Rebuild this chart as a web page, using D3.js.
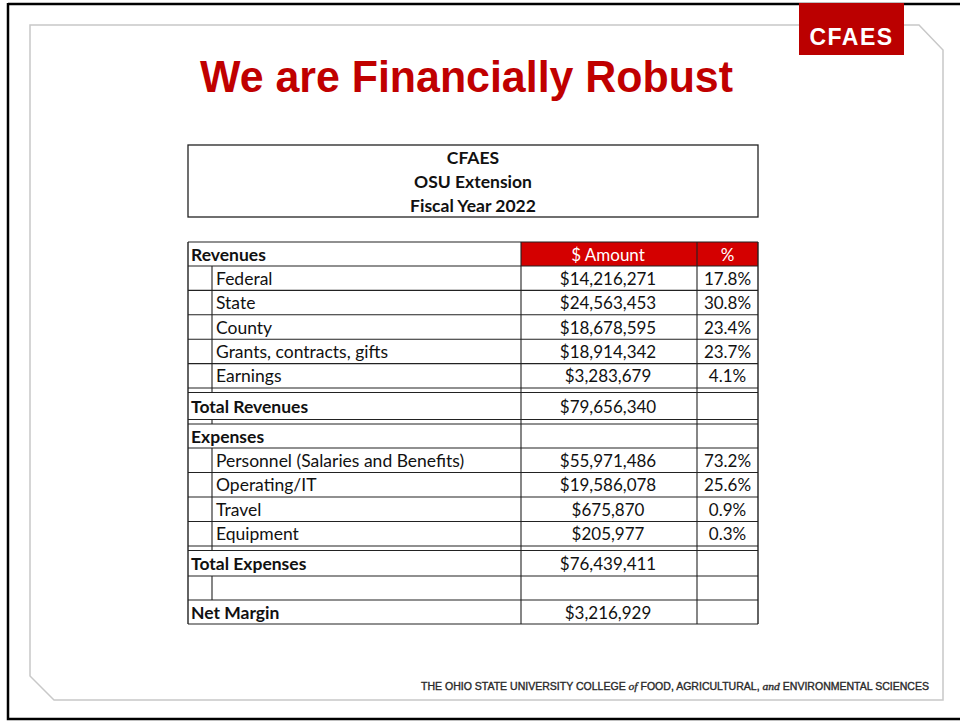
<!DOCTYPE html>
<html><head><meta charset="utf-8">
<script src="https://cdn.jsdelivr.net/npm/d3@7"></script>
<style>
html,body{margin:0;padding:0;background:#fff;}
svg{display:block;}
</style></head>
<body>
<svg id="chart" width="960" height="721"></svg>
<script>
// ---- data ----
const titleText = "We are Financially Robust";
const headerLines = ["CFAES", "OSU Extension", "Fiscal Year 2022"];
const columnHeaders = ["$ Amount", "%"];
const revenueCategories = ["Federal", "State", "County", "Grants, contracts, gifts", "Earnings"];
const revenueAmounts = [14216271, 24563453, 18678595, 18914342, 3283679];
const revenuePct = [17.8, 30.8, 23.4, 23.7, 4.1];
const totalRevenues = 79656340;
const expenseCategories = ["Personnel (Salaries and Benefits)", "Operating/IT", "Travel", "Equipment"];
const expenseAmounts = [55971486, 19586078, 675870, 205977];
const expensePct = [73.2, 25.6, 0.9, 0.3];
const totalExpenses = 76439411;
const netMargin = 3216929;

// ---- layout ----
const svg = d3.select("#chart");
const fmt = d3.format("$,");
const pfmt = v => v.toFixed(1) + "%";
const F = "Lato, 'Open Sans', sans-serif";
const FS = 17.5;

// page frame
svg.append("path").attr("d","M8,4 H960 M8,3 V719 H960")
  .attr("fill","none").attr("stroke","#000").attr("stroke-width",2.5);
svg.append("path").attr("d","M30,25 H919 L943,50 V700 H54 L30,676 Z")
  .attr("fill","none").attr("stroke","#c8c8c8").attr("stroke-width",1.5);

// CFAES badge
svg.append("rect").attr("x",799).attr("y",3).attr("width",105).attr("height",52).attr("fill","#bb0000");
svg.append("text").attr("x",851.5).attr("y",45).attr("text-anchor","middle")
  .attr("font-family","'Liberation Sans', Arial, sans-serif").attr("font-weight","bold")
  .attr("font-size",23).attr("letter-spacing",1.5).attr("fill","#fff").text("CFAES");

// title
svg.append("text").attr("x",200).attr("y",92)
  .attr("font-family","'Liberation Sans Narrow', 'Liberation Sans', Arial, sans-serif")
  .attr("font-weight","bold").attr("font-size",44).attr("fill","#c00000")
  .attr("textLength",533).attr("lengthAdjust","spacingAndGlyphs").text(titleText);

// header box
const x0 = 188, x1 = 758;
svg.append("rect").attr("x",x0).attr("y",145).attr("width",x1-x0).attr("height",72)
  .attr("fill","none").attr("stroke","#222").attr("stroke-width",1.3);
svg.selectAll("text.hdr").data(headerLines).join("text").attr("class","hdr")
  .attr("x",(x0+x1)/2).attr("y",(d,i)=>163.5+i*24).attr("text-anchor","middle")
  .attr("font-family",F).attr("font-weight","bold").attr("font-size",FS).attr("fill","#111")
  .text(d=>d);

// rows
const rows = [];
rows.push({type:"section", label:"Revenues", amt:columnHeaders[0], pct:columnHeaders[1], head:true, h:24});
revenueCategories.forEach((c,i)=>rows.push({type:"item", label:c, amt:fmt(revenueAmounts[i]), pct:pfmt(revenuePct[i]), h:24.4}));
rows.push({type:"spacer", h:4.5});
rows.push({type:"total", label:"Total Revenues", amt:fmt(totalRevenues), pct:"", h:27});
rows.push({type:"spacer", h:4.5});
rows.push({type:"section", label:"Expenses", amt:"", pct:"", h:24});
expenseCategories.forEach((c,i)=>rows.push({type:"item", label:c, amt:fmt(expenseAmounts[i]), pct:pfmt(expensePct[i]), h:24.5}));
rows.push({type:"spacer", h:4.5});
rows.push({type:"total", label:"Total Expenses", amt:fmt(totalExpenses), pct:"", h:25.5});
rows.push({type:"blank", label:"", amt:"", pct:"", h:24});
rows.push({type:"total", label:"Net Margin", amt:fmt(netMargin), pct:"", h:24});

let yc = 242;
rows.forEach(r=>{ r.y = yc; yc += r.h; });
const yEnd = yc;

const cols = {indent:212, amt:521, pct:697};
const g = svg.append("g");

// red header cells
const hr = rows[0];
g.append("rect").attr("x",cols.amt).attr("y",hr.y).attr("width",cols.pct-cols.amt).attr("height",hr.h).attr("fill","#d40000");
g.append("rect").attr("x",cols.pct).attr("y",hr.y).attr("width",x1-cols.pct).attr("height",hr.h).attr("fill","#d40000");

// horizontal lines
const hlines = [];
rows.forEach(r=>{ hlines.push(r.y); });
hlines.push(yEnd);
g.selectAll("line.h").data(hlines).join("line").attr("class","h")
  .attr("x1",x0).attr("x2",x1).attr("y1",d=>d).attr("y2",d=>d)
  .attr("stroke","#222").attr("stroke-width",1.1);

// vertical lines
[x0, cols.amt, cols.pct, x1].forEach(x=>{
  g.append("line").attr("x1",x).attr("x2",x).attr("y1",242).attr("y2",yEnd)
    .attr("stroke","#222").attr("stroke-width",x===x0||x===x1?1.4:1.1);
});
rows.filter(r=>r.type==="item"||r.type==="spacer"||r.type==="blank").forEach(r=>{
  g.append("line").attr("x1",cols.indent).attr("x2",cols.indent).attr("y1",r.y).attr("y2",r.y+r.h)
    .attr("stroke","#222").attr("stroke-width",1.1);
});

// text
const txt = rows.filter(r=>r.type!=="spacer");
g.selectAll("text.lbl").data(txt).join("text").attr("class","lbl")
  .attr("x",r=>r.type==="item"?cols.indent+4:x0+3)
  .attr("y",r=>r.y+r.h/2+6.5)
  .attr("font-family",F).attr("font-size",FS)
  .attr("font-weight",r=>r.type==="item"?"normal":"bold")
  .attr("fill","#111").text(r=>r.label);
g.selectAll("text.amt").data(txt).join("text").attr("class","amt")
  .attr("x",(cols.amt+cols.pct)/2-1).attr("y",r=>r.y+r.h/2+6.5).attr("text-anchor","middle")
  .attr("font-family",F).attr("font-size",FS-0.5)
  .attr("fill",r=>r.head?"#fff":"#111").text(r=>r.amt);
g.selectAll("text.pct").data(txt).join("text").attr("class","pct")
  .attr("x",(cols.pct+x1)/2).attr("y",r=>r.y+r.h/2+6.5).attr("text-anchor","middle")
  .attr("font-family",F).attr("font-size",FS-0.5)
  .attr("fill",r=>r.head?"#fff":"#111").text(r=>r.pct);

// footer
const ft = svg.append("text").attr("x",421).attr("y",690)
  .attr("font-family","'Liberation Sans', Arial, sans-serif").attr("font-size",10)
  .attr("fill","#2a2a2a").attr("stroke","#2a2a2a").attr("stroke-width",0.35)
  .attr("textLength",508).attr("lengthAdjust","spacingAndGlyphs");
ft.append("tspan").text("THE OHIO STATE UNIVERSITY COLLEGE ");
ft.append("tspan").attr("font-family","'Liberation Serif', serif").attr("font-style","italic").attr("font-size",11).text("of");
ft.append("tspan").text(" FOOD, AGRICULTURAL, ");
ft.append("tspan").attr("font-family","'Liberation Serif', serif").attr("font-style","italic").attr("font-size",11).text("and");
ft.append("tspan").text(" ENVIRONMENTAL SCIENCES");
</script>
</body></html>
